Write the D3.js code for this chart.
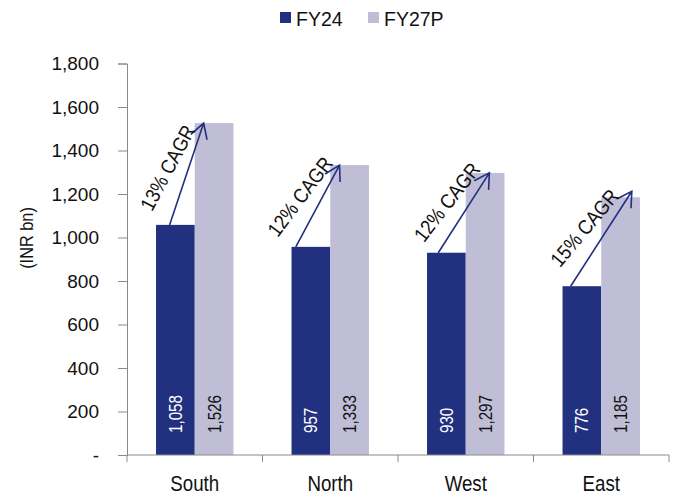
<!DOCTYPE html>
<html>
<head>
<meta charset="utf-8">
<script src="https://cdn.jsdelivr.net/npm/d3@7"></script>
<style>
	body { margin: 0; background: #fff; }
	svg { display: block; font-family: "Liberation Sans", Arial, sans-serif; }
	.axis path, .axis line { stroke: #8a8a8a; }
</style>
</head>
<body>
<div id="chart"></div>
<script>
var categories = ["South", "North", "West", "East"];
var series = ["FY24", "FY27P"];
var fy24 = [1058, 957, 930, 776];
var fy27p = [1526, 1333, 1297, 1185];
var cagr_labels = ["13% CAGR", "12% CAGR", "12% CAGR", "15% CAGR"];
var y_ticks = [0, 200, 400, 600, 800, 1000, 1200, 1400, 1600, 1800];
var colors = ["#21307f", "#bfbed6"];

// where each CAGR arrow leaves / meets its bars (fraction of bar width)
var arrow_from = [0.35, 0.11, 0.29, 0.21];
var arrow_to = [0.23, 0.24, 0.61, 0.79];
var arrow_lift = [0, 0, 0, 6];
var label_angle = [-62, -53, -52, -50];

var W = 677, H = 497;
var margin = {left: 127, right: 8, top: 63.5, bottom: 42};

var svg = d3.select("#chart")
	.append("svg")
	.attr("width", W)
	.attr("height", H);

var x0 = d3.scaleBand()
	.domain(categories)
	.range([margin.left, W - margin.right])
	.padding(0);
var x1 = d3.scaleBand()
	.domain(series)
	.range([0, x0.bandwidth()])
	.paddingInner(0)
	.paddingOuter(0.75);
var y = d3.scaleLinear()
	.domain([0, 1800])
	.range([H - margin.bottom, margin.top]);

var rows = categories.map(function(c, i) {
	return {cat: c, i: i, vals: [fy24[i], fy27p[i]]};
});

// bars
var groups = svg.selectAll("g.cat")
	.data(rows)
	.enter().append("g")
	.attr("class", "cat")
	.attr("transform", function(d) { return "translate(" + x0(d.cat) + ",0)"; });

groups.selectAll("rect")
	.data(function(d) { return d.vals.map(function(v, k) { return {s: series[k], v: v, k: k}; }); })
	.enter().append("rect")
	.attr("x", function(d) { return x1(d.s); })
	.attr("y", function(d) { return y(d.v); })
	.attr("width", x1.bandwidth())
	.attr("height", function(d) { return y(0) - y(d.v); })
	.attr("fill", function(d) { return colors[d.k]; });

// value labels inside bars
groups.selectAll("text.val")
	.data(function(d) { return d.vals.map(function(v, k) { return {s: series[k], v: v, k: k}; }); })
	.enter().append("text")
	.attr("class", "val")
	.attr("transform", function(d) {
		return "translate(" + (x1(d.s) + x1.bandwidth() / 2) + "," + (y(0) - 22) + ") rotate(-90) scale(0.82,1)";
	})
	.attr("dy", "0.35em")
	.attr("font-size", 18.5)
	.attr("fill", function(d) { return d.k == 0 ? "#fff" : "#111"; })
	.text(function(d) { return d3.format(",")(d.v); });

// axes
var yAxis = svg.append("g")
	.attr("class", "axis")
	.attr("transform", "translate(" + margin.left + ",0)")
	.call(d3.axisLeft(y).tickValues(y_ticks).tickSize(9).tickPadding(19)
		.tickFormat(function(d) { return d == 0 ? "-" : d3.format(",")(d); }));
yAxis.selectAll("text")
	.attr("font-size", 19)
	.attr("font-family", "Liberation Sans, Arial, sans-serif")
	.attr("fill", "#111");

var xAxis = svg.append("g")
	.attr("class", "axis")
	.attr("transform", "translate(0," + y(0) + ")");
xAxis.append("line")
	.attr("x1", margin.left).attr("x2", W - margin.right)
	.attr("y1", 0).attr("y2", 0);
xAxis.selectAll("line.tk")
	.data(categories.concat([null]))
	.enter().append("line")
	.attr("class", "tk")
	.attr("x1", function(d, i) { return margin.left + i * x0.step(); })
	.attr("x2", function(d, i) { return margin.left + i * x0.step(); })
	.attr("y1", 0).attr("y2", 7);
xAxis.selectAll("text")
	.data(categories)
	.enter().append("text")
	.attr("transform", function(d) {
		return "translate(" + (x0(d) + x0.bandwidth() / 2) + ",36) scale(0.87,1)";
	})
	.attr("text-anchor", "middle")
	.attr("font-size", 21.5)
	.attr("fill", "#111")
	.text(function(d) { return d; });

svg.append("text")
	.attr("transform", "translate(33,238) rotate(-90) scale(0.86,1)")
	.attr("text-anchor", "middle")
	.attr("font-size", 19)
	.attr("fill", "#111")
	.text("(INR bn)");

// CAGR arrows
var arrows = rows.map(function(d) {
	var i = d.i;
	var sx = x0(d.cat) + x1(series[0]) + arrow_from[i] * x1.bandwidth();
	var sy = y(fy24[i]);
	var ex = x0(d.cat) + x1(series[1]) + arrow_to[i] * x1.bandwidth();
	var ey = y(fy27p[i]) - arrow_lift[i];
	return {i: i, sx: sx, sy: sy, ex: ex, ey: ey};
});

var ag = svg.append("g")
	.attr("stroke", colors[0])
	.attr("stroke-width", 1.6)
	.attr("fill", "none");

ag.selectAll("path")
	.data(arrows)
	.enter().append("path")
	.attr("d", function(a) {
		var ang = Math.atan2(a.ey - a.sy, a.ex - a.sx);
		var len = 17, spread = Math.PI / 6;
		var b1x = a.ex - len * Math.cos(ang - spread), b1y = a.ey - len * Math.sin(ang - spread);
		var b2x = a.ex - len * Math.cos(ang + spread), b2y = a.ey - len * Math.sin(ang + spread);
		return "M" + a.sx + "," + a.sy + "L" + a.ex + "," + a.ey +
			"M" + b1x + "," + b1y + "L" + a.ex + "," + a.ey + "L" + b2x + "," + b2y;
	});

svg.selectAll("text.cagr")
	.data(arrows)
	.enter().append("text")
	.attr("class", "cagr")
	.attr("transform", function(a) {
		var dx = a.ex - a.sx, dy = a.ey - a.sy;
		var l = Math.sqrt(dx * dx + dy * dy);
		var mx = (a.sx + a.ex) / 2 + 20 * dy / l;
		var my = (a.sy + a.ey) / 2 - 20 * dx / l;
		return "translate(" + mx + "," + my + ") rotate(" + label_angle[a.i] + ") scale(0.88,1)";
	})
	.attr("text-anchor", "middle")
	.attr("dy", "0.35em")
	.attr("font-size", 20.5)
	.attr("fill", "#111")
	.text(function(a) { return cagr_labels[a.i]; });

// legend
var legend = svg.append("g")
	.attr("transform", "translate(280,12)");
var lg = legend.selectAll("g")
	.data(series)
	.enter().append("g")
	.attr("transform", function(d, i) { return "translate(" + (i * 88) + ",0)"; });
lg.append("rect")
	.attr("width", 11).attr("height", 11)
	.attr("fill", function(d, i) { return colors[i]; });
lg.append("text")
	.attr("x", 16).attr("y", 14)
	.attr("font-size", 19.5)
	.attr("fill", "#111")
	.text(function(d) { return d; });
</script>
</body>
</html>
